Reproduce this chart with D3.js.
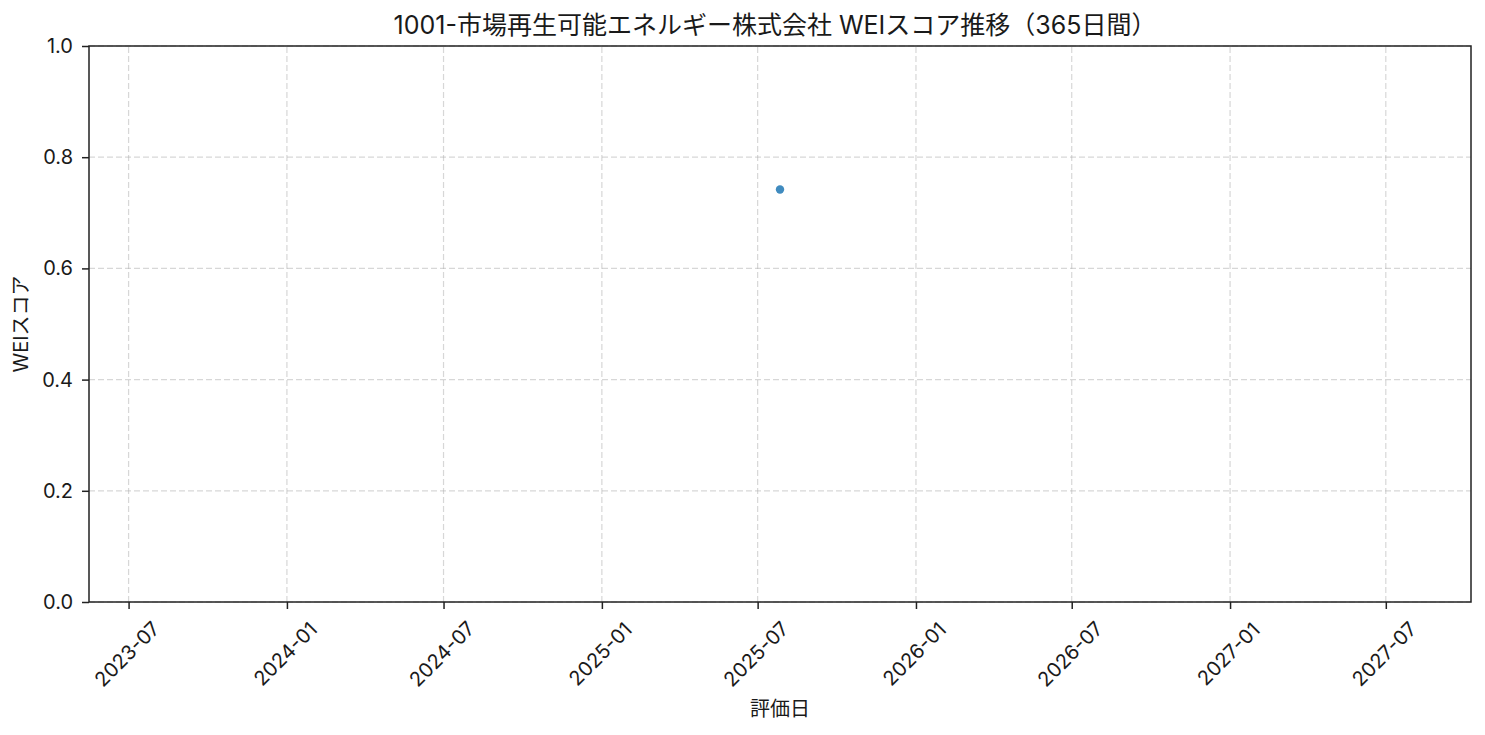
<!DOCTYPE html>
<html>
<head>
<meta charset="utf-8">
<script src="https://cdn.jsdelivr.net/npm/d3@7"></script>
<style>
  body { margin: 0; background: #fff; }
  svg text { font-family: Inter, "Noto Sans CJK JP", sans-serif; fill: #1a1a1a; }
</style>
</head>
<body>
<div id="chart"></div>
<script>
const title = "1001-市場再生可能エネルギー株式会社 WEIスコア推移（365日間）";
const dates = ["2025-07-27"];
const scores = [0.742];
const yTicks = [0, 0.2, 0.4, 0.6, 0.8, 1.0];
const xTickLabels = ["2023-07", "2024-01", "2024-07", "2025-01", "2025-07", "2026-01", "2026-07", "2027-01", "2027-07"];

const width = 1485, height = 735;
const margin = { top: 46, right: 14, bottom: 133, left: 89 };
const parse = d3.timeParse("%Y-%m-%d");
const parseMonth = d3.timeParse("%Y-%m");

const data = dates.map((d, i) => ({ date: parse(d), value: scores[i] }));

// single point: +-2 years then 5% padding, like matplotlib does
const center = data[0].date;
const lo = d3.timeDay.offset(center, -730), hi = d3.timeDay.offset(center, 730);
const pad = (hi - lo) * 0.05;

const svg = d3.select("#chart").append("svg")
  .attr("width", width).attr("height", height);

const x = d3.scaleTime()
  .domain([new Date(+lo - pad), new Date(+hi + pad)])
  .range([margin.left, width - margin.right]);
const y = d3.scaleLinear()
  .domain([0, 1])
  .range([height - margin.bottom, margin.top]);

const xTicks = xTickLabels.map(parseMonth);

// grid
svg.append("g").selectAll("line").data(xTicks).join("line")
  .attr("x1", d => x(d)).attr("x2", d => x(d))
  .attr("y1", y(0)).attr("y2", y(1))
  .attr("stroke", "#b0b0b0").attr("stroke-opacity", 0.5)
  .attr("stroke-width", 1.2).attr("stroke-dasharray", "6,3");
svg.append("g").selectAll("line").data(yTicks).join("line")
  .attr("x1", x.range()[0]).attr("x2", x.range()[1])
  .attr("y1", d => y(d)).attr("y2", d => y(d))
  .attr("stroke", "#b0b0b0").attr("stroke-opacity", 0.5)
  .attr("stroke-width", 1.2).attr("stroke-dasharray", "6,3");

// axes
const xAxis = svg.append("g")
  .attr("transform", `translate(0,${y(0)})`)
  .call(d3.axisBottom(x).tickValues(xTicks).tickFormat(d3.timeFormat("%Y-%m")).tickSize(7).tickSizeOuter(0));
xAxis.selectAll(".tick text")
  .attr("font-size", 20)
  .attr("text-anchor", "middle")
  .attr("dominant-baseline", "central")
  .attr("dy", null)
  .attr("y", 0)
  .attr("transform", "translate(-2,52) rotate(-45)");

const yAxis = svg.append("g")
  .attr("transform", `translate(${x.range()[0]},0)`)
  .call(d3.axisLeft(y).tickValues(yTicks).tickFormat(d3.format(".1f")).tickSize(7).tickSizeOuter(0));
yAxis.selectAll(".tick text").attr("font-size", 20).attr("x", -16);

svg.selectAll(".domain").remove();
svg.selectAll(".tick line").attr("stroke", "#222").attr("stroke-width", 1.5);

// frame
svg.append("rect")
  .attr("x", x.range()[0]).attr("y", y(1))
  .attr("width", x.range()[1] - x.range()[0]).attr("height", y(0) - y(1))
  .attr("fill", "none").attr("stroke", "#222").attr("stroke-width", 1.5);

// points
svg.append("g").selectAll("circle").data(data).join("circle")
  .attr("cx", d => x(d.date)).attr("cy", d => y(d.value))
  .attr("r", 4.2)
  .attr("fill", "#1f77b4").attr("fill-opacity", 0.85);

// labels
svg.append("text")
  .attr("x", (x.range()[0] + x.range()[1]) / 2 - 5).attr("y", 34)
  .attr("text-anchor", "middle").attr("font-size", 25)
  .text(title);
svg.append("text")
  .attr("x", (x.range()[0] + x.range()[1]) / 2).attr("y", 716)
  .attr("text-anchor", "middle").attr("font-size", 20)
  .text("評価日");
svg.append("text")
  .attr("transform", `translate(28,${(y(0) + y(1)) / 2}) rotate(-90)`)
  .attr("text-anchor", "middle").attr("font-size", 20)
  .text("WEIスコア");
</script>
</body>
</html>
